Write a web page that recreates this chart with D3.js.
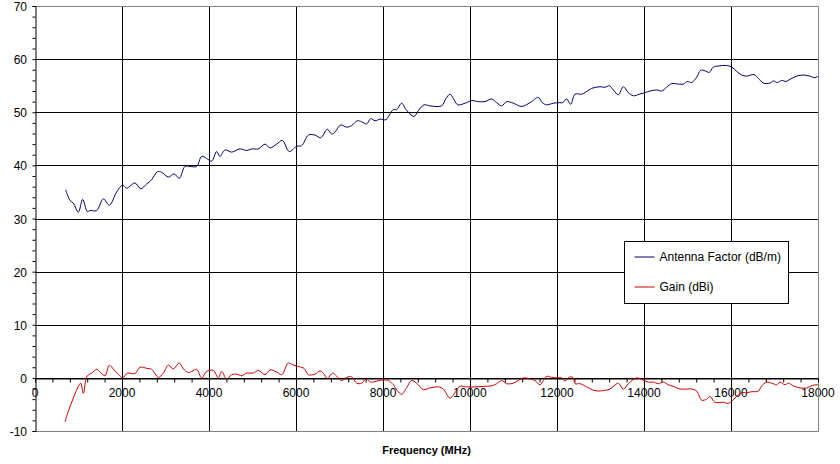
<!DOCTYPE html>
<html>
<head>
<meta charset="utf-8">
<script src="https://cdn.jsdelivr.net/npm/d3@7"></script>
<style>
  body { margin: 0; background: #fff; }
  svg { display: block; font-family: Arial, 'Liberation Sans', sans-serif; }
</style>
</head>
<body>
<script>
/* ===== data ===== */

var freqAF = [705, 805, 881, 996, 1096, 1203, 1264, 1418, 1571, 1709, 1878, 2015, 2107, 2184, 2299, 2429, 2567, 2682, 2812, 2912, 3065, 3195, 3318, 3448, 3563, 3716, 3831, 3946, 4061, 4176, 4253, 4368, 4521, 4713, 4866, 4981, 5134, 5287, 5402, 5556, 5686, 5847, 6015, 6130, 6284, 6437, 6567, 6720, 6820, 6897, 7027, 7165, 7280, 7410, 7510, 7625, 7717, 7816, 7931, 8069, 8145, 8237, 8314, 8429, 8529, 8621, 8713, 8812, 8943, 9080, 9349, 9441, 9540, 9617, 9717, 9885, 10038, 10191, 10345, 10498, 10613, 10728, 10843, 10996, 11188, 11379, 11570, 11662, 11762, 11916, 12053, 12130, 12222, 12314, 12414, 12567, 12644, 12797, 12989, 13103, 13203, 13295, 13410, 13525, 13640, 13755, 13893, 14023, 14138, 14292, 14406, 14521, 14636, 14790, 14904, 14996, 15096, 15211, 15303, 15402, 15501, 15593, 15708, 15901, 16015, 16130, 16245, 16360, 16529, 16628, 16743, 16897, 16973, 17065, 17165, 17264, 17356, 17510, 17663, 17816, 17931, 18000];
var antennaFactor = [35.4, 33.4, 32.9, 31.2, 33.6, 31.3, 31.5, 31.5, 33.7, 32.5, 35.0, 36.3, 35.7, 36.1, 36.7, 35.6, 36.5, 37.3, 38.8, 38.7, 37.8, 38.4, 37.6, 39.8, 39.8, 39.8, 41.7, 41.3, 40.8, 42.6, 41.7, 42.9, 42.5, 43.1, 42.8, 43.1, 43.1, 44.0, 43.3, 44.0, 44.7, 42.6, 43.6, 43.7, 45.7, 45.7, 45.2, 46.8, 45.9, 46.3, 47.6, 47.2, 47.5, 48.4, 48.2, 47.8, 48.8, 48.4, 48.7, 48.6, 49.5, 50.5, 50.5, 51.7, 50.5, 49.7, 49.2, 50.3, 51.4, 51.2, 51.2, 52.5, 53.4, 52.6, 51.4, 51.7, 52.2, 52.0, 52.0, 52.5, 51.8, 51.2, 52.0, 51.7, 51.1, 51.8, 52.8, 51.8, 51.4, 51.7, 51.8, 51.8, 52.5, 51.5, 53.4, 53.4, 53.7, 54.5, 54.8, 54.7, 55.0, 54.2, 53.3, 54.8, 53.7, 53.1, 53.4, 53.7, 54.0, 54.2, 54.0, 54.7, 55.4, 55.3, 55.3, 55.8, 55.6, 56.6, 57.9, 57.8, 57.5, 58.5, 58.7, 58.8, 58.5, 57.7, 57.0, 56.8, 57.1, 56.4, 55.5, 55.5, 55.9, 55.6, 56.0, 55.8, 56.2, 56.8, 57.0, 56.8, 56.5, 56.8];

var freqGain = [690, 766, 881, 996, 1050, 1111, 1172, 1203, 1303, 1418, 1494, 1609, 1709, 1816, 1916, 2015, 2123, 2299, 2414, 2567, 2682, 2835, 2950, 3065, 3180, 3318, 3410, 3525, 3602, 3716, 3831, 3946, 4100, 4215, 4291, 4406, 4521, 4636, 4751, 4866, 5019, 5134, 5287, 5402, 5556, 5671, 5824, 5939, 6077, 6184, 6284, 6437, 6552, 6628, 6720, 6843, 6935, 7050, 7165, 7280, 7395, 7510, 7609, 7717, 7816, 7969, 8123, 8237, 8329, 8429, 8544, 8659, 8774, 8927, 9080, 9272, 9387, 9540, 9678, 9770, 9923, 10115, 10306, 10498, 10613, 10728, 10843, 10996, 11111, 11241, 11379, 11494, 11609, 11724, 11777, 11877, 11992, 12107, 12184, 12260, 12314, 12375, 12414, 12529, 12682, 12874, 13065, 13218, 13310, 13410, 13525, 13640, 13755, 13831, 13946, 14100, 14215, 14329, 14444, 14559, 14674, 14828, 14981, 15096, 15211, 15326, 15441, 15517, 15632, 15824, 15939, 16054, 16130, 16245, 16360, 16475, 16628, 16705, 16820, 16935, 17050, 17126, 17241, 17318, 17433, 17586, 17739, 17877, 18000];
var gain = [-8.3, -6.3, -3.8, -1.6, -1.0, -2.9, -0.2, 0.4, 0.9, 1.6, 1.1, 0.4, 2.4, 1.5, 0.7, 0.0, 0.9, 0.8, 2.0, 1.8, 1.6, 0.1, 0.9, 2.4, 1.7, 2.8, 1.7, 1.0, 1.2, 1.6, 0.0, 1.2, 1.4, 0.0, 1.2, -0.2, 0.6, 0.7, 0.4, 0.9, 0.9, 1.4, 0.6, 1.5, 1.1, 0.6, 2.8, 2.4, 2.1, 1.8, 0.6, 0.7, 1.3, 0.9, -0.1, 0.9, 0.3, -0.5, 0.1, 0.2, -1.0, -1.0, -0.2, -0.8, -0.7, -0.4, -0.5, -1.3, -2.4, -3.1, -1.8, -0.5, -1.0, -2.2, -1.9, -1.7, -2.1, -3.8, -2.5, -1.6, -1.7, -1.7, -1.6, -1.5, -1.1, -0.5, -1.1, -1.0, -0.5, 0.0, -0.2, -0.5, -1.3, 0.0, 0.3, 0.1, 0.0, 0.0, -0.6, 0.0, 0.2, 0.0, -1.1, -1.1, -1.7, -2.4, -2.4, -2.1, -1.5, -1.0, -2.1, -1.1, -0.3, 0.0, -0.3, -0.8, -0.8, -1.1, -0.8, -1.3, -1.6, -2.1, -2.1, -2.1, -2.5, -4.2, -4.0, -3.5, -4.6, -4.6, -4.8, -4.1, -3.5, -2.8, -2.8, -2.6, -2.5, -1.5, -0.8, -1.0, -1.3, -0.8, -1.3, -1.0, -1.5, -1.9, -1.9, -1.4, -1.3];

var seriesNames = ['Antenna Factor (dB/m)', 'Gain (dBi)'];
var seriesColors = ['#000066', '#cc0000'];
var xTicks = [0, 2000, 4000, 6000, 8000, 10000, 12000, 14000, 16000, 18000];
var yTicks = [-10, 0, 10, 20, 30, 40, 50, 60, 70];
var xTitle = 'Frequency (MHz)';

buildChart();

/* ===== build chart ===== */

function buildChart() {
  var w = 840;
  var h = 464;
  var padLeft = 35, padRight = 818, padTop = 6, padBottom = 431;

  var svg = d3.select('body')
    .append('svg')
    .attr('width', w)
    .attr('height', h);

  var xScale = d3.scaleLinear()
    .domain([0, 18000])
    .range([padLeft, padRight]);

  var yScale = d3.scaleLinear()
    .domain([-10, 70])
    .range([padBottom, padTop]);

  /* ===== tick labels (drawn under the grid) ===== */

  svg.append('g')
    .selectAll('text')
    .data(xTicks)
    .enter()
    .append('text')
    .attr('x', function(d) { return xScale(d); })
    .attr('y', yScale(0) + 19)
    .attr('text-anchor', 'middle')
    .style('font-size', '12px')
    .text(function(d) { return d; });

  svg.append('g')
    .selectAll('text')
    .data(yTicks)
    .enter()
    .append('text')
    .attr('x', padLeft - 8)
    .attr('y', function(d) { return yScale(d) + 5; })
    .attr('text-anchor', 'end')
    .style('font-size', '12px')
    .text(function(d) { return d; });

  /* ===== grid ===== */

  svg.append('g')
    .selectAll('line')
    .data(yTicks.filter(function(d) { return d > -10 && d < 70; }))
    .enter()
    .append('line')
    .attr('x1', padLeft)
    .attr('x2', padRight)
    .attr('y1', function(d) { return Math.round(yScale(d)) + 0.5; })
    .attr('y2', function(d) { return Math.round(yScale(d)) + 0.5; })
    .attr('stroke', '#000');

  svg.append('g')
    .selectAll('line')
    .data(xTicks.filter(function(d) { return d > 0 && d < 18000; }))
    .enter()
    .append('line')
    .attr('x1', function(d) { return Math.round(xScale(d)) + 0.5; })
    .attr('x2', function(d) { return Math.round(xScale(d)) + 0.5; })
    .attr('y1', padTop)
    .attr('y2', padBottom)
    .attr('stroke', '#000');

  // gray frame on top, right and bottom
  svg.append('path')
    .attr('d', 'M' + padLeft + ',' + (padTop + 0.5) + 'H' + (padRight + 0.5) +
      'V' + (padBottom + 0.5) + 'H' + padLeft)
    .attr('fill', 'none')
    .attr('stroke', '#808080');

  /* ===== axes ===== */

  var yAxis = d3.axisLeft(yScale)
    .tickValues(d3.range(-10, 70.1, 2))
    .tickSize(3)
    .tickFormat('');

  svg.append('g')
    .attr('transform', 'translate(' + (padLeft + 0.5) + ',0)')
    .call(yAxis)
    .call(function(g) { g.selectAll('line, path').attr('stroke', '#000'); });

  var xAxis = d3.axisBottom(xScale)
    .tickValues(d3.range(0, 18001, 400))
    .tickSize(4)
    .tickSizeOuter(0)
    .tickFormat('');

  svg.append('g')
    .attr('transform', 'translate(0,' + (Math.round(yScale(0)) + 0.5) + ')')
    .call(xAxis)
    .call(function(g) { g.selectAll('line, path').attr('stroke', '#000'); });

  /* ===== lines ===== */

  var line = d3.line()
    .x(function(d) { return xScale(d[0]); })
    .y(function(d) { return yScale(d[1]); })
    .curve(d3.curveCatmullRom.alpha(0.5));

  svg.append('path')
    .datum(d3.zip(freqAF, antennaFactor))
    .attr('d', line)
    .attr('fill', 'none')
    .attr('stroke', seriesColors[0])
    .attr('stroke-width', 1);

  svg.append('path')
    .datum(d3.zip(freqGain, gain))
    .attr('d', line)
    .attr('fill', 'none')
    .attr('stroke', seriesColors[1])
    .attr('stroke-width', 1);

  /* ===== legend ===== */

  var legend = svg.append('g')
    .attr('transform', 'translate(624.5,241.5)');

  legend.append('rect')
    .attr('width', 164)
    .attr('height', 62)
    .attr('fill', '#fff')
    .attr('stroke', '#000');

  legend.selectAll('g.item')
    .data(seriesNames)
    .enter()
    .append('g')
    .attr('class', 'item')
    .attr('transform', function(d, i) { return 'translate(0,' + (15.5 + i * 30) + ')'; })
    .each(function(d, i) {
      var g = d3.select(this);
      g.append('line')
        .attr('x1', 10)
        .attr('x2', 30)
        .attr('stroke', seriesColors[i]);
      g.append('text')
        .attr('x', 35)
        .attr('y', 4)
        .style('font-size', '12px')
        .text(d);
    });

  /* ===== axis title ===== */

  svg.append('text')
    .attr('x', (padLeft + padRight) / 2)
    .attr('y', 454)
    .attr('text-anchor', 'middle')
    .style('font-size', '11px')
    .style('font-weight', 'bold')
    .text(xTitle);
}
</script>
</body>
</html>
